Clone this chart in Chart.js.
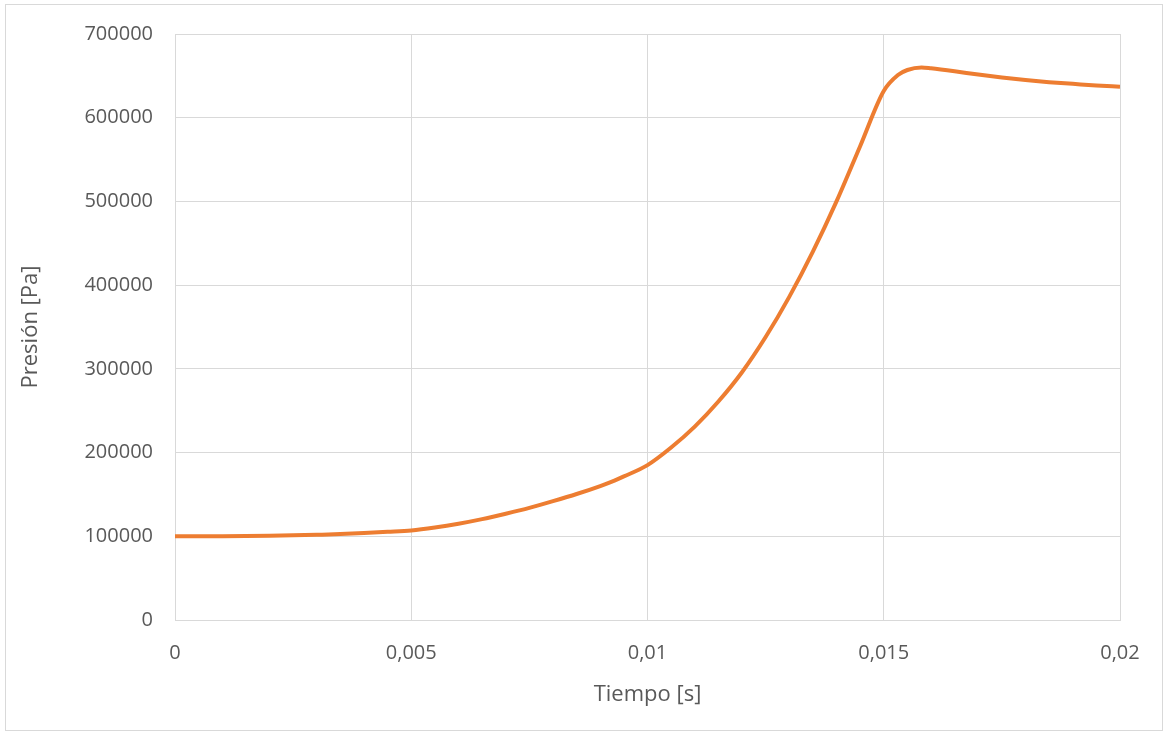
<!DOCTYPE html>
<html>
<head>
<meta charset="utf-8">
<script src="https://cdn.jsdelivr.net/npm/chart.js@4/dist/chart.umd.min.js"></script>
<style>
	html, body { margin:0; padding:0; background:#fff; }
	#frame { position:absolute; left:5px; top:4px; width:1156px; height:725px; border:1px solid #d9d9d9; }
	#holder { position:absolute; left:0; top:0; width:1167px; height:735px; }
</style>
</head>
<body>
<div id="frame"></div>
<div id="holder"><canvas id="chart_pressure"></canvas></div>
<script>
// time [s]
var tiempo = [0, 0.0005, 0.001, 0.0015, 0.002, 0.0025, 0.003, 0.0035, 0.004, 0.0045,
	0.005, 0.0055, 0.006, 0.0065, 0.007, 0.0075, 0.008, 0.0085, 0.009, 0.0093,
	0.0095, 0.01, 0.0105, 0.011, 0.0115, 0.012, 0.0125, 0.013, 0.0135, 0.014,
	0.0145, 0.015, 0.0153, 0.0155, 0.0158, 0.016, 0.0165, 0.017, 0.0175, 0.018,
	0.0185, 0.019, 0.0195, 0.02];
// pressure [Pa]
var presion = [100000, 100000, 100100, 100300, 100600, 101100, 101800, 102600, 103800, 105300,
	107000, 110500, 115000, 120500, 127000, 134000, 142000, 150500, 160000, 166500,
	171500, 185000, 206000, 231000, 261000, 296000, 338000, 386000, 440000, 500000,
	566000, 632000, 651000, 657000, 660000, 659000, 655500, 651500, 648000, 645000,
	642500, 640500, 638500, 637000];

var xTicks = [0, 0.005, 0.01, 0.015, 0.02];
var xTickLabels = ["0", "0,005", "0,01", "0,015", "0,02"];
var yTicks = [0, 100000, 200000, 300000, 400000, 500000, 600000, 700000];
var yTickLabels = ["0", "100000", "200000", "300000", "400000", "500000", "600000", "700000"];

var txtColor = "#595959";
var gridColor = "#d9d9d9";

var points = [];
for (var i = 0; i < tiempo.length; i++) points.push({x: tiempo[i], y: presion[i]});

var ctx = document.getElementById("chart_pressure").getContext("2d");
var chart = new Chart(ctx, {
	type: "line",
	data: {
		datasets: [{
			data: points,
			borderColor: "#ED7D31",
			borderWidth: 4,
			pointRadius: 0,
			cubicInterpolationMode: "monotone",
			fill: false
		}]
	},
	options: {
		responsive: false,
		animation: false,
		maintainAspectRatio: false,
		layout: { padding: { top: 33, right: 47, left: 8, bottom: 27 } },
		plugins: { legend: { display: false }, tooltip: { enabled: false } },
		scales: {
			x: {
				type: "linear",
				min: 0, max: 0.02,
				afterBuildTicks: function (scale) {
					scale.ticks = xTicks.map(function (v) { return {value: v}; });
				},
				afterFit: function (scale) { scale.height = 88; },
				grid: { color: gridColor, lineWidth: 1, drawTicks: false },
				border: { color: gridColor },
				ticks: {
					color: txtColor, padding: 21,
					font: { family: "'Open Sans'", size: 20 },
					maxRotation: 0,
					callback: function (v, idx) { return xTickLabels[idx]; }
				},
				title: {
					display: true, text: "Tiempo [s]", color: txtColor,
					font: { family: "'Open Sans'", size: 22 },
					padding: { top: 8, bottom: 0 }
				}
			},
			y: {
				min: 0, max: 700000,
				afterBuildTicks: function (scale) {
					scale.ticks = yTicks.map(function (v) { return {value: v}; });
				},
				afterFit: function (scale) { scale.width = 167; },
				grid: { color: gridColor, lineWidth: 1, drawTicks: false },
				border: { color: gridColor },
				ticks: {
					color: txtColor, padding: 22,
					font: { family: "'Open Sans'", size: 20 },
					callback: function (v, idx) { return yTickLabels[idx]; }
				},
				title: {
					display: true, text: "Presión [Pa]", color: txtColor,
					font: { family: "'Open Sans'", size: 22 },
					padding: { top: 10, bottom: 0 }
				}
			}
		}
	}
});
chart.resize(1167, 735);
</script>
</body>
</html>
